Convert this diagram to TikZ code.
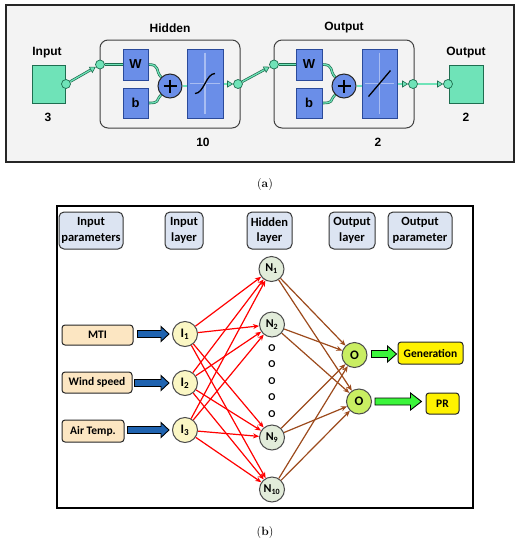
\documentclass[tikz,border=0pt]{standalone}
\usepackage{fontspec}
\usetikzlibrary{arrows.meta,calc}
\newfontfamily\fa{Liberation Sans}
\newfontfamily\fb{Carlito}
\definecolor{mint}{HTML}{6FE3B8}
\definecolor{dkg}{HTML}{1E6E50}
\definecolor{nnblue}{HTML}{6A8EE8}
\definecolor{nnblued}{HTML}{2A4A9A}
\definecolor{crossc}{HTML}{A8BDF2}
\definecolor{panelbg}{HTML}{F3F3F3}
\definecolor{hdr}{HTML}{DCE4F2}
\definecolor{beige}{HTML}{FCE6C2}
\definecolor{inode}{HTML}{FBF7C4}
\definecolor{hnode}{HTML}{E2ECDA}
\definecolor{onode}{HTML}{C9EE62}
\definecolor{bluearr}{HTML}{1F63B0}
\definecolor{greenarr}{HTML}{3BF53B}
\definecolor{brownarr}{HTML}{9C4A1C}
\pgfdeclarelayer{bg}\pgfdeclarelayer{mid}\pgfsetlayers{bg,mid,main}
\newcommand\wirearrow[2]{\draw[wire,shorten >=4pt] #1 -- #2; \draw[wirein,tipA] #1 -- #2;}
\newcommand\wireplain[1]{\draw[wire] #1; \draw[wirein] #1;}
\newcommand\blockarr[6]{\draw[line width=0.9pt, fill=#6] let \p1=#1, \p2=#2 in
  (\x1,\y1-#3pt) -- (\x2-#5pt,\y1-#3pt) -- (\x2-#5pt,\y1-#4pt) -- (\x2,\y1) --
  (\x2-#5pt,\y1+#4pt) -- (\x2-#5pt,\y1+#3pt) -- (\x1,\y1+#3pt) -- cycle;}
\begin{document}
\begin{tikzpicture}[x=1pt,y=-1pt,
  sq/.style={draw=dkg, fill=mint, line width=0.8pt, minimum width=33pt, minimum height=38pt, inner sep=0},
  cdot/.style={circle, draw=dkg, fill=mint, line width=0.7pt, minimum size=9pt, inner sep=0},
  bbox/.style={draw=nnblued, fill=nnblue, line width=0.8pt, inner sep=0, font=\fa\bfseries\fontsize{13}{15}\selectfont},
  layerbox/.style={draw=black!75, fill=panelbg, rounded corners=8pt, line width=1pt, inner sep=0},
  lab/.style={font=\fa\bfseries\fontsize{12}{14}\selectfont},
  wire/.style={dkg,line width=2.6pt},
  wirein/.style={mint,line width=1.2pt},
  tipA/.style={-{Triangle[length=6pt,width=7pt,fill=mint,color=dkg,line width=0.6pt]}},
  hdrbox/.style={draw=black!80, fill=hdr, rounded corners=5pt, line width=1pt, align=center, inner sep=0, font=\fb\bfseries\fontsize{12.5}{15.5}\selectfont},
  inbox/.style={draw=black!85, fill=beige, rounded corners=3pt, line width=1pt, inner sep=0, font=\fb\bfseries\fontsize{11.5}{13}\selectfont},
  outbox/.style={draw=black!85, fill=yellow, rounded corners=3pt, line width=1pt, inner sep=0, font=\fb\bfseries\fontsize{11.5}{13}\selectfont},
  neuron/.style={circle, draw=black!70, line width=1pt, minimum size=25pt, inner sep=0, font=\fb\bfseries\fontsize{13}{15}\selectfont},
  hneuron/.style={neuron, fill=hnode, font=\fb\bfseries\fontsize{12}{14}\selectfont},
  dotlab/.style={font=\fb\bfseries\fontsize{10.5}{12}\selectfont, inner sep=0},
  redarr/.style={red, line width=1.2pt, -{Stealth[length=6pt,width=5pt]}},
  brarr/.style={brownarr, line width=1.2pt, -{Stealth[length=6pt,width=5pt]}},
  captxt/.style={font=\fontsize{12}{14}\selectfont}
]
\useasboundingbox (0,0) rectangle (530,550);
% ---------- (a) ----------
\begin{pgfonlayer}{bg}
\draw[draw=black!85, fill=panelbg, line width=1.2pt] (6,5) rectangle (514,162);
\node[layerbox, minimum width=140pt, minimum height=88pt] (hid) at (170,84) {};
\node[layerbox, minimum width=140pt, minimum height=88pt] (outl) at (344,84) {};
\end{pgfonlayer}
\node[lab] (hidlab) at (170,28) {Hidden};
\node[lab] (outlab) at (344,28) {Output};
\node[lab] (hidn) at (203,142) {10};
\node[lab] (outn) at (378,142) {2};

\node[sq] (inSq) at (48.5,84) {};
\node[lab] (inlab) at (47,53) {Input};
\node[lab] (innum) at (48,117) {3};
\node[sq, minimum width=34pt] (outSq) at (466,84) {};
\node[lab] (outsqlab) at (466,53) {Output};
\node[lab] (outsqnum) at (466,117) {2};

\node[bbox, minimum width=25pt, minimum height=31pt] (W1) at (135.5,64.5) {W};
\node[bbox, minimum width=25pt, minimum height=30pt] (b1) at (135.5,103) {b};
\node[bbox, minimum width=36pt, minimum height=69pt] (T1) at (205,83.5) {};
\node[circle, draw=black!85, fill=nnblue, line width=1pt, minimum size=24pt, inner sep=0] (P1) at (170,86) {};
\node[bbox, minimum width=26pt, minimum height=31pt] (W2) at (309,64.5) {W};
\node[bbox, minimum width=26pt, minimum height=30pt] (b2) at (309,103) {b};
\node[bbox, minimum width=35pt, minimum height=69pt] (T2) at (379.5,83.5) {};
\node[circle, draw=black!85, fill=nnblue, line width=1pt, minimum size=24pt, inner sep=0] (P2) at (344,86) {};

% plus signs
\foreach \p in {P1,P2}{
  \draw[line width=1.7pt] ($(\p.center)+(-6.5,0)$) -- ($(\p.center)+(6.5,0)$);
  \draw[line width=1.7pt] ($(\p.center)+(0,-6.5)$) -- ($(\p.center)+(0,6.5)$);
}
% transfer functions
\foreach \t in {T1,T2}{
  \draw[crossc, line width=1.2pt] ($(\t.west)+(3,0)$) -- ($(\t.east)+(-3,0)$);
  \draw[crossc, line width=1.2pt] ($(\t.north)+(0,4)$) -- ($(\t.south)+(0,-4)$);
}
\draw[line width=1.3pt] ($(T1.center)+(-10,10)$) .. controls ($(T1.center)+(-1,10)$) and ($(T1.center)+(1,-10)$) .. ($(T1.center)+(10,-10)$);
\draw[line width=1.3pt] ($(T2.center)+(-11,13)$) -- ($(T2.center)+(11,-13)$);

\node[cdot] (c0) at (66,84) {};
\node[cdot] (c1) at (100,64.5) {};
\node[cdot] (c2) at (238,84) {};
\node[cdot] (c3) at (274,64.5) {};
\node[cdot] (c4) at (413,84) {};
\node[cdot] (c5) at (448,84) {};

\begin{pgfonlayer}{mid}
\wirearrow{(c0)}{(c1)}
\wireplain{(c1) -- (W1)}
\wireplain{(W1.east) .. controls +(12,0) and +(-6,-6) .. (P1.135)}
\wireplain{(b1.east) .. controls +(12,0) and +(-6,6) .. (P1.-135)}
\wireplain{(P1.east) -- (P1.east -| T1.west)}
\wirearrow{(T1.east |- c2)}{(c2)}
\wirearrow{(c2)}{(c3)}
\wireplain{(c3) -- (W2)}
\wireplain{(W2.east) .. controls +(12,0) and +(-6,-6) .. (P2.135)}
\wireplain{(b2.east) .. controls +(12,0) and +(-6,6) .. (P2.-135)}
\wireplain{(P2.east) -- (P2.east -| T2.west)}
\wirearrow{(T2.east |- c4)}{(c4)}
\wirearrow{(c4)}{(c5)}
\end{pgfonlayer}

\node[captxt] (capa) at (265,185) {(\textbf{a})};

% ---------- (b) ----------
\draw[line width=1.5pt] (57,206) rectangle (473,508);
\node[hdrbox, minimum width=64pt, minimum height=37pt] (h1) at (91,230.5) {Input\\parameters};
\node[hdrbox, minimum width=38pt, minimum height=37pt] (h2) at (184,230.5) {Input\\layer};
\node[hdrbox, minimum width=45pt, minimum height=37pt] (h3) at (269.5,230.5) {Hidden\\layer};
\node[hdrbox, minimum width=46pt, minimum height=37pt] (h4) at (352,230.5) {Output\\layer};
\node[hdrbox, minimum width=64pt, minimum height=37pt] (h5) at (420,230.5) {Output\\parameter};

\node[inbox, minimum width=71pt, minimum height=20pt] (mti) at (97.5,335) {MTI};
\node[inbox, minimum width=70pt, minimum height=21pt] (wind) at (97,382.5) {Wind speed};
\node[inbox, minimum width=62pt, minimum height=22pt] (air) at (93,431) {Air Temp.};

\node[neuron, fill=inode] (I1) at (185,334) {I\textsubscript{1}};
\node[neuron, fill=inode] (I2) at (185,383) {I\textsubscript{2}};
\node[neuron, fill=inode] (I3) at (185,430) {I\textsubscript{3}};
\node[hneuron] (N1) at (271.5,269) {N\textsubscript{1}};
\node[hneuron] (N2) at (272,324.5) {N\textsubscript{2}};
\node[hneuron] (N9) at (272,437.5) {N\textsubscript{9}};
\node[hneuron] (N10) at (272,489.5) {N\textsubscript{10}};
\node[neuron, fill=onode] (O1) at (354.5,355) {O};
\node[neuron, fill=onode] (O2) at (359,401.5) {O};
\node[dotlab] (d1) at (272,348) {O};
\node[dotlab] (d2) at (272,364.5) {O};
\node[dotlab] (d3) at (272,381) {O};
\node[dotlab] (d4) at (272,397.5) {O};
\node[dotlab] (d5) at (272,414) {O};

\node[outbox, minimum width=65pt, minimum height=22pt] (gen) at (430.5,353) {Generation};
\node[outbox, minimum width=33pt, minimum height=21pt] (pr) at (442.5,403.5) {PR};

\blockarr{($(mti.east |- I1)+(4,0)$)}{($(I1.west)+(-3,0)$)}{3.5}{7.5}{8}{bluearr}
\blockarr{($(wind.east |- I2)+(2,0)$)}{($(I2.west)+(-3,0)$)}{3.5}{7.5}{8}{bluearr}
\blockarr{($(air.east |- I3)+(3,0)$)}{($(I3.west)+(-3,0)$)}{3.5}{7.5}{8}{bluearr}
\blockarr{($(O1.east)+(4,-1)$)}{($(gen.west |- O1)+(-1,-1)$)}{3.5}{8}{9}{greenarr}
\blockarr{($(O2.east)+(3,0)$)}{($(pr.west |- O2)+(-4,0)$)}{3.5}{8.5}{11}{greenarr}

\foreach \i in {I1,I2,I3}
  \foreach \n in {N1,N2,N9,N10}
    \draw[redarr] (\i) -- (\n);
\foreach \n in {N1,N2,N9,N10}
  \foreach \o in {O1,O2}
    \draw[brarr] (\n) -- (\o);

\node[captxt] (capb) at (265,532) {(\textbf{b})};
\end{tikzpicture}
\end{document}
